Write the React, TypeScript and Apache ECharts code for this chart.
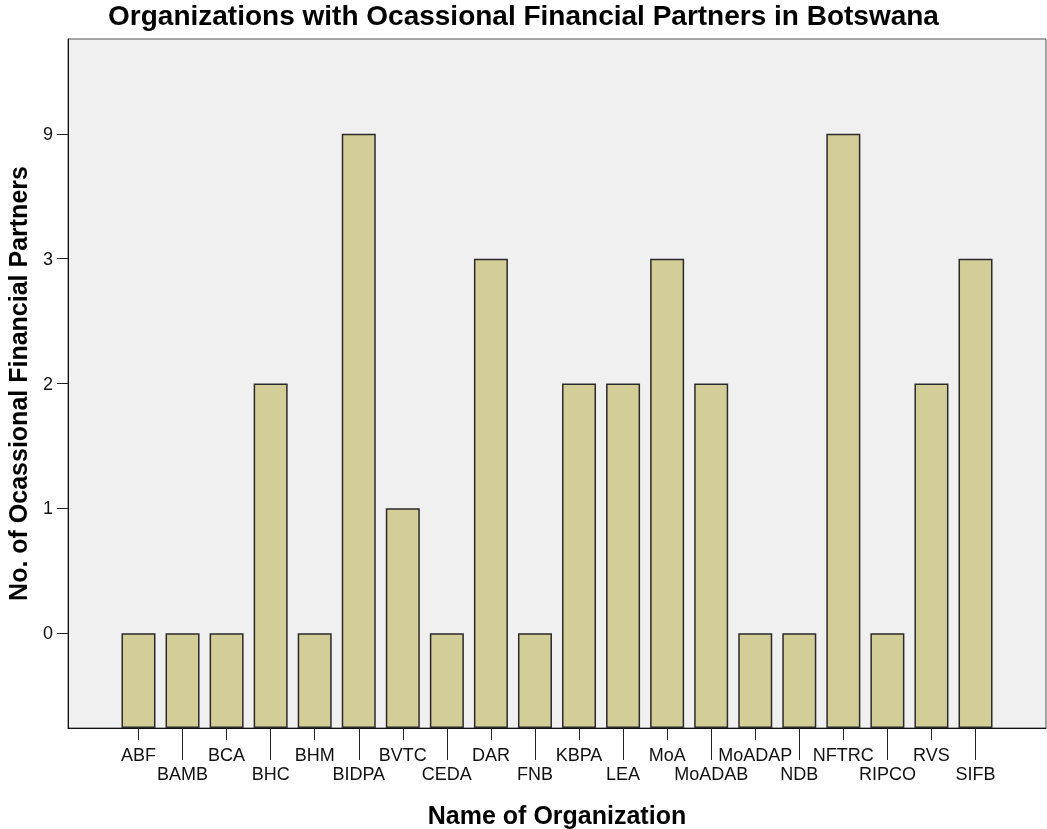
import React, { useEffect, useRef } from "react";
import * as echarts from "echarts";

const organizations = ["ABF", "BAMB", "BCA", "BHC", "BHM", "BIDPA", "BVTC", "CEDA", "DAR", "FNB", "KBPA", "LEA", "MoA", "MoADAB", "MoADAP", "NDB", "NFTRC", "RIPCO", "RVS", "SIFB"];
const partners = [0, 0, 0, 2, 0, 9, 1, 0, 3, 0, 2, 2, 3, 2, 0, 0, 9, 0, 2, 3];
const yTickLabels = ["0", "1", "2", "3", "9"];

const Y_OFFSET = 0.76;
const FONT = "'Liberation Sans', Arial, sans-serif";

export default function App() {
  const ref = useRef<HTMLDivElement>(null);
  useEffect(() => {
    if (!ref.current) return;
    const chart = echarts.init(ref.current, undefined, { renderer: "svg" });
    const evenIdx = organizations.map((_, i) => i).filter((i) => i % 2 === 0);
    const oddIdx = organizations.map((_, i) => i).filter((i) => i % 2 === 1);
    const yVals = yTickLabels.map((_, i) => i + Y_OFFSET);
    const xFmt = (v: number) => organizations[Math.round(v)] ?? "";
    chart.setOption({
      animation: false,
      title: {
        text: "Organizations with Ocassional Financial Partners in Botswana",
        left: "center",
        top: -4,
        textStyle: { fontFamily: FONT, fontSize: 28, fontWeight: "bold", color: "#000" },
      },
      grid: {
        left: 68,
        right: 1,
        top: 39,
        bottom: 101,
        outerBoundsMode: "none",
        containLabel: false,
        show: true,
        backgroundColor: "#F0F0F0",
        borderColor: "#555",
        borderWidth: 1,
      },
      xAxis: [
        {
          type: "value",
          min: -1.6,
          max: 20.6,
          position: "bottom",
          name: "Name of Organization",
          nameLocation: "middle",
          nameGap: 74,
          nameTextStyle: { fontFamily: FONT, fontSize: 25, fontWeight: "bold", color: "#000" },
          splitLine: { show: false },
          axisLine: { show: true, onZero: false, lineStyle: { color: "#111" } },
          axisTick: { show: true, length: 12, customValues: evenIdx, lineStyle: { color: "#222" } },
          axisLabel: { customValues: evenIdx, formatter: xFmt, margin: 18, fontFamily: FONT, fontSize: 18, color: "#111" },
        },
        {
          type: "value",
          min: -1.6,
          max: 20.6,
          position: "bottom",
          splitLine: { show: false },
          axisLine: { show: false, onZero: false },
          axisTick: { show: true, length: 32, customValues: oddIdx, lineStyle: { color: "#222" } },
          axisLabel: { customValues: oddIdx, formatter: xFmt, margin: 37, fontFamily: FONT, fontSize: 18, color: "#111" },
        },
      ],
      yAxis: {
        type: "value",
        min: 0,
        max: yTickLabels.length - 1 + 2 * Y_OFFSET,
        name: "No. of Ocassional Financial Partners",
        nameLocation: "middle",
        nameGap: 38,
        nameTextStyle: { fontFamily: FONT, fontSize: 25, fontWeight: "bold", color: "#000" },
        splitLine: { show: false },
        axisLine: { show: true, onZero: false, lineStyle: { color: "#111" } },
        axisTick: { show: true, length: 11, customValues: yVals, lineStyle: { color: "#222" } },
        axisLabel: {
          customValues: yVals,
          formatter: (v: number) => yTickLabels[Math.round(v - Y_OFFSET)] ?? "",
          margin: 15,
          fontFamily: FONT,
          fontSize: 18,
          color: "#111",
        },
      },
      series: [
        {
          type: "bar",
          xAxisIndex: 0,
          barWidth: 34,
          itemStyle: { color: "#D3CE97", borderColor: "#2a2a2a", borderWidth: 1.5 },
          data: partners.map((p, i) => [i, yTickLabels.indexOf(String(p)) + Y_OFFSET]),
        },
      ],
    });
    return () => chart.dispose();
  }, []);
  return <div ref={ref} style={{ position: "fixed", left: 0, top: 0, width: 1047, height: 829 }} />;
}
